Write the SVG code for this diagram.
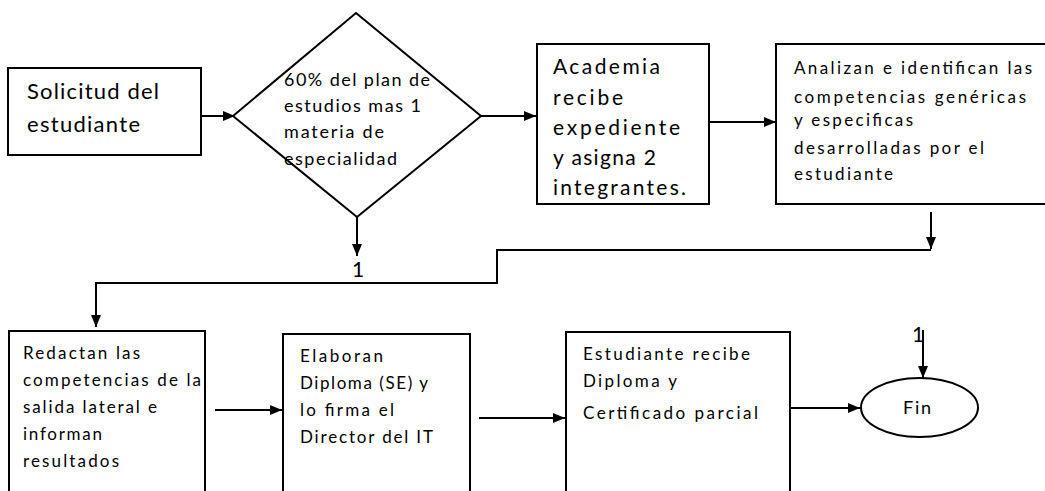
<svg xmlns="http://www.w3.org/2000/svg" width="1045" height="491" viewBox="0 0 1045 491">
<style>
.shape{fill:#fff;stroke:#000;stroke-width:2}
.conn{fill:none;stroke:#000;stroke-width:2}
text{font-family:Lato,"Open Sans","Liberation Sans",sans-serif;fill:#000}
.t22{font-size:22px}
.t21{font-size:21px}
.t18{font-size:18px}
.t17{font-size:17px}
</style>
<defs>
<marker id="ah" markerUnits="userSpaceOnUse" markerWidth="13" markerHeight="11" refX="12" refY="5" orient="auto">
<path d="M0,0 L12,5 L0,10 z" fill="#000"/>
</marker>
</defs>
<rect width="1045" height="491" fill="#fff"/>
<g id="connectors">
<path class="conn" d="M195,116 H235" marker-end="url(#ah)"/>
<path class="conn" d="M481,116 H536" marker-end="url(#ah)"/>
<path class="conn" d="M709,122 H776" marker-end="url(#ah)"/>
<path class="conn" d="M357,217 V256" marker-end="url(#ah)"/>
<path class="conn" d="M931,212 V249" marker-end="url(#ah)"/>
<path class="conn" d="M931,250 H497 V283 H96 V327" marker-end="url(#ah)"/>
<path class="conn" d="M215,410 H282" marker-end="url(#ah)"/>
<path class="conn" d="M479,418 H565" marker-end="url(#ah)"/>
<path class="conn" d="M790,408 H860" marker-end="url(#ah)"/>
<path class="conn" d="M923,330 V378" marker-end="url(#ah)"/>
<text class="t21" x="352" y="277">1</text>
<text class="t21" x="912" y="342">1</text>
</g>
<g id="solicitud">
<rect class="shape" x="8" y="68" width="193" height="87"/>
<text class="t22" x="27" y="99" textLength="132">Solicitud del</text>
<text class="t22" x="27" y="132" textLength="113">estudiante</text>
</g>
<g id="decision">
<polygon class="shape" points="356,13 481,116 357,217 233,116"/>
<text class="t18" x="284" y="86" textLength="146">60% del plan de</text>
<text class="t18" x="284" y="112" textLength="137">estudios mas 1</text>
<text class="t18" x="284" y="138" textLength="100">materia de</text>
<text class="t18" x="284" y="165" textLength="113">especialidad</text>
</g>
<g id="academia">
<rect class="shape" x="537" y="44" width="172" height="160"/>
<text class="t21" x="553" y="74" textLength="107">Academia</text>
<text class="t21" x="553" y="105" textLength="70">recibe</text>
<text class="t21" x="553" y="135" textLength="127">expediente</text>
<text class="t21" x="553" y="165" textLength="103">y asigna 2</text>
<text class="t21" x="553" y="195" textLength="133">integrantes.</text>
</g>
<g id="analizan">
<rect class="shape" x="776" y="44" width="280" height="160"/>
<text class="t17" x="794" y="74" textLength="238">Analizan e identifican las</text>
<text class="t17" x="794" y="103" textLength="232">competencias genéricas</text>
<text class="t17" x="794" y="126" textLength="119">y especificas</text>
<text class="t17" x="794" y="154" textLength="190">desarrolladas por el</text>
<text class="t17" x="794" y="180" textLength="99">estudiante</text>
</g>
<g id="redactan">
<rect class="shape" x="9" y="331" width="196" height="180"/>
<text class="t17" x="23" y="359" textLength="117">Redactan las</text>
<text class="t17" x="23" y="386" textLength="178">competencias de la</text>
<text class="t17" x="23" y="413" textLength="134">salida lateral e</text>
<text class="t17" x="23" y="440" textLength="79">informan</text>
<text class="t17" x="23" y="467" textLength="96">resultados</text>
</g>
<g id="elaboran">
<rect class="shape" x="283" y="334" width="187" height="180"/>
<text class="t17" x="300" y="362" textLength="83">Elaboran</text>
<text class="t17" x="300" y="389" textLength="128">Diploma (SE) y</text>
<text class="t17" x="300" y="416" textLength="94">lo firma el</text>
<text class="t17" x="300" y="443" textLength="133">Director del IT</text>
</g>
<g id="estudiante">
<rect class="shape" x="566" y="332" width="224" height="180"/>
<text class="t17" x="583" y="360" textLength="167">Estudiante recibe</text>
<text class="t17" x="583" y="387" textLength="94">Diploma y</text>
<text class="t17" x="583" y="419" textLength="175">Certificado parcial</text>
</g>
<g id="fin">
<ellipse class="shape" cx="919.5" cy="407.5" rx="58.5" ry="29.5"/>
<text class="t18" x="903" y="414" textLength="28">Fin</text>
</g>
</svg>
